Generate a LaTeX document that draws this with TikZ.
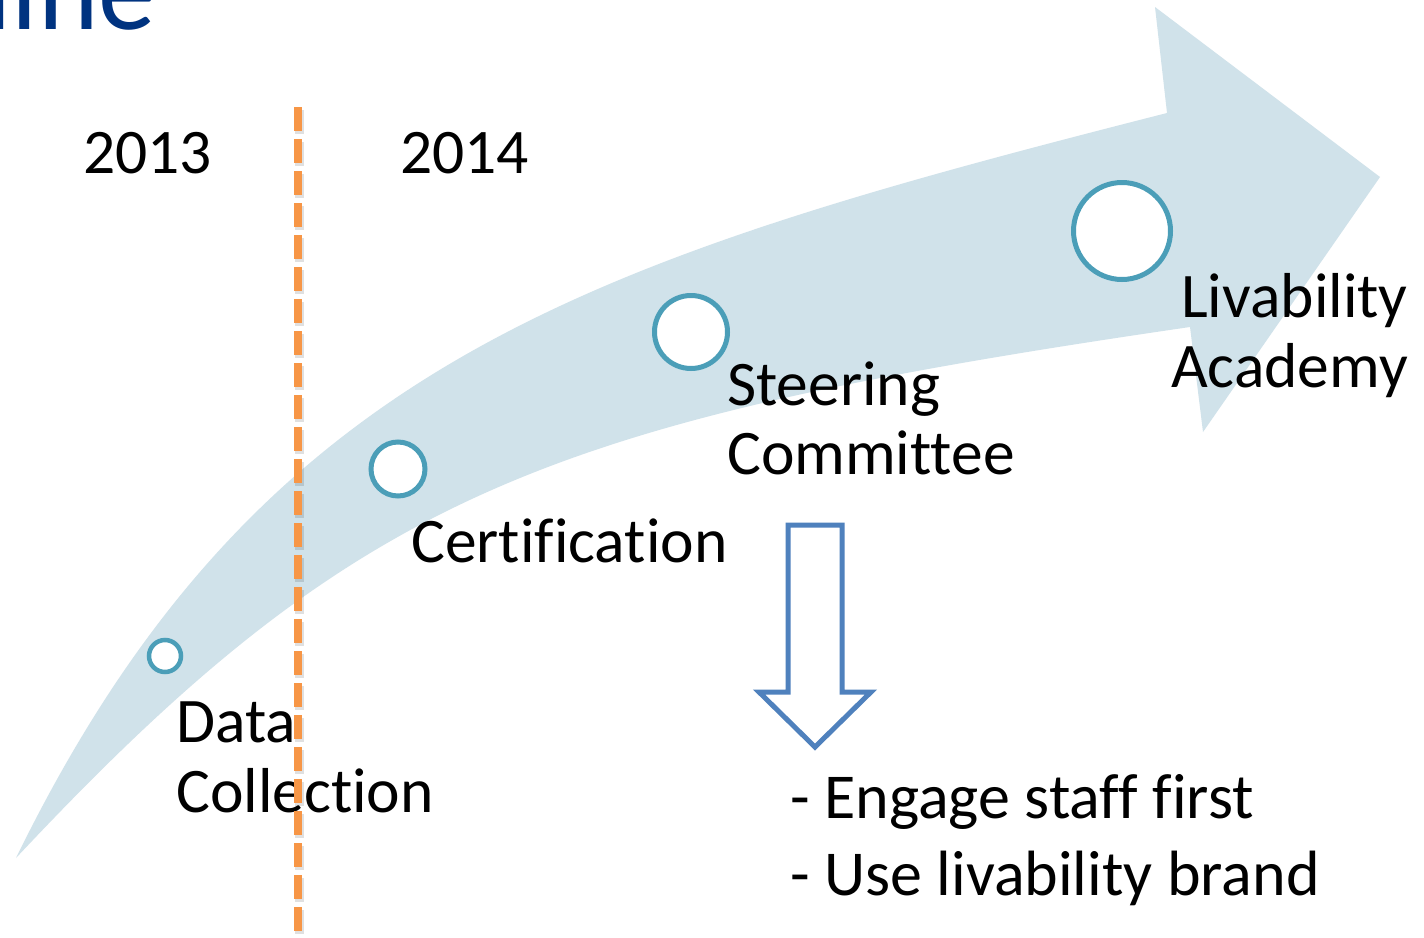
\documentclass[tikz,border=0pt]{standalone}
\usepackage{fontspec}
\setmainfont{Carlito}[Ligatures={NoCommon}]
\definecolor{bandblue}{RGB}{208,226,234}
\definecolor{ringteal}{RGB}{75,158,184}
\definecolor{dashorange}{RGB}{247,150,70}
\definecolor{outlineblue}{RGB}{79,129,189}
\definecolor{titleblue}{RGB}{0,51,128}
\tikzset{
  lbl/.style={anchor=base west, inner sep=0pt, font=\fontsize{63.5}{70}\selectfont, text=black},
  ring/.style={draw=ringteal, fill=white, circle, inner sep=0pt},
}
\begin{document}
\begin{tikzpicture}[x=1pt,y=-1pt]
\useasboundingbox (0,0) rectangle (1424,937);
\fill[white] (0,0) rectangle (1424,937);
% title fragment (cut off by the page edge, as in the reference)
\node[anchor=base east, inner sep=0pt, text=titleblue, font=\fontsize{115}{120}\selectfont] (title) at (156,29) {line};
% curved arrow band
\fill[bandblue] (16,858) .. controls (258,363) and (586,261) .. (1167,113)
  -- (1155,7) -- (1380,177) -- (1203,432) -- (1190,327)
  .. controls (546,421) and (358,493) .. (16,858) -- cycle;
% milestone rings
\node[ring, line width=4.5pt, minimum size=32pt] (r1) at (165,656) {};
\node[ring, line width=5pt, minimum size=54pt] (r2) at (398,469) {};
\node[ring, line width=5pt, minimum size=73pt] (r3) at (691,332) {};
\node[ring, line width=5pt, minimum size=97pt] (r4) at (1122,231) {};
% labels
\node[lbl] (y13) at (83,173) {2013};
\node[lbl] (y14) at (400,173) {2014};
\node[lbl] (data1) at (176,742) {Data};
\node[lbl] (data2) at (176,812) {Collection};
\node[lbl] (cert) at (411,562) {Certification};
\node[lbl] (steer1) at (727,405) {Steering};
\node[lbl] (steer2) at (727,474) {Committee};
\node[lbl, anchor=base east] (liv1) at (1408,317) {Livability};
\node[lbl, anchor=base east] (liv2) at (1408,387) {Academy};
\node[lbl, font=\fontsize{64}{70}\selectfont] (b1) at (790,818) {- Engage staff first};
\node[lbl, font=\fontsize{64}{70}\selectfont] (b2) at (790,895) {- Use livability brand};
% down outline arrow
\draw[outlineblue, line width=5pt, line join=miter, fill=white]
  (788,525) -- (842,525) -- (842,692) -- (871,692) -- (815,747) -- (759,692) -- (788,692) -- cycle;
% dashed divider with soft shadow
\coordinate (dtop) at (298,107);
\coordinate (dbot) at (298,940);
\draw[black, opacity=0.12, line width=9pt, dash pattern=on 24pt off 8pt] ([shift={(1,3)}]dtop) -- ([shift={(1,3)}]dbot);
\draw[dashorange, line width=8pt, dash pattern=on 24pt off 8pt] (dtop) -- (dbot);
\end{tikzpicture}
\end{document}
